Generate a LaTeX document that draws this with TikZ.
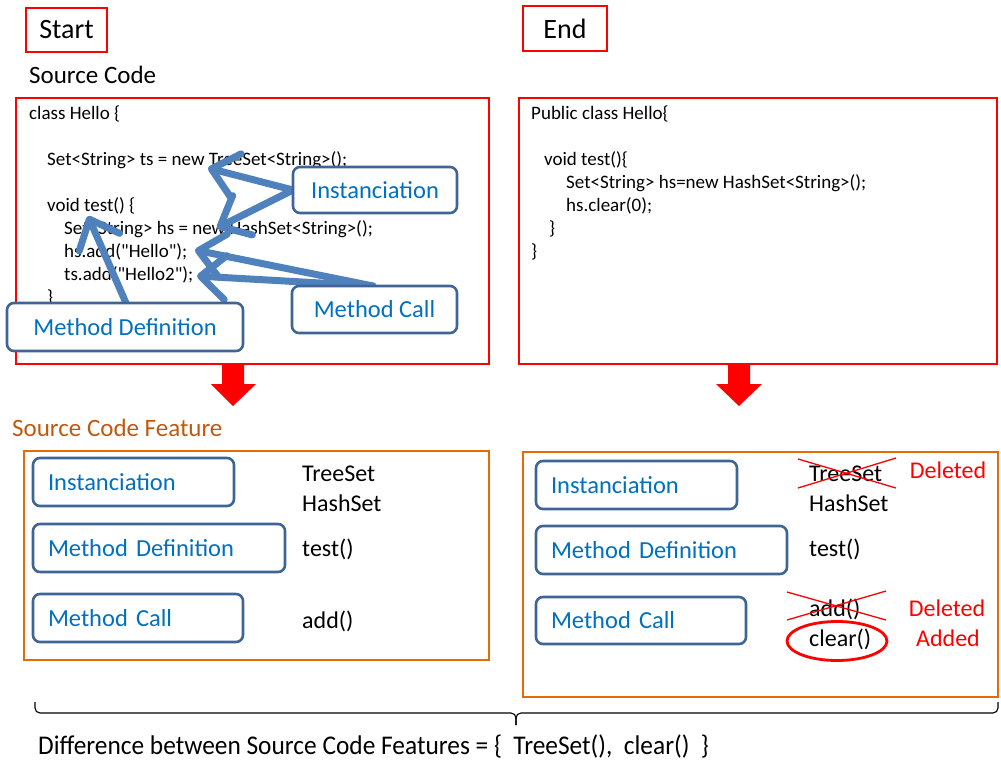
\documentclass[tikz,border=0pt]{standalone}
\usepackage{fontspec}
\setmainfont{Carlito}
\newfontfamily\codefont{Carlito}[Ligatures=TeXOff]
\usetikzlibrary{arrows.meta,shapes.geometric}

\definecolor{codered}{HTML}{FF0000}
\definecolor{featorange}{HTML}{E36C09}
\definecolor{titlebrown}{HTML}{C0590F}
\definecolor{tagborder}{HTML}{3F6597}
\definecolor{tagtext}{HTML}{0070C0}
\definecolor{pointer}{HTML}{4F81BD}

\begin{document}
\begin{tikzpicture}[x=1pt,y=-1pt,
  headbox/.style={draw=codered, line width=2.8pt, inner sep=0, font=\fontsize{28}{32}\selectfont},
  codebox/.style={draw=codered, line width=2.6pt, inner sep=0},
  featframe/.style={draw=featorange, line width=2.8pt, inner sep=0},
  codeline/.style={anchor=base west, inner sep=0, font=\codefont\fontsize{19}{23}\selectfont},
  heading/.style={anchor=base west, inner sep=0, font=\fontsize{25}{30}\selectfont},
  tagbox/.style={draw=tagborder, line width=2.6pt, rounded corners=7pt, fill=white,
                 text=tagtext, inner sep=0, font=\fontsize{24.5}{29}\selectfont},
  featbox/.style={tagbox, inner xsep=15pt, align=left},
  feattext/.style={anchor=base west, inner sep=0, font=\fontsize{24}{29}\selectfont},
  marktext/.style={anchor=base, inner sep=0, text=codered, font=\fontsize{24}{29}\selectfont},
  pointerarrow/.style={draw=pointer, line width=7pt, line cap=round,
                 -{Straight Barb[length=25pt, width=44pt, round]}},
  strike/.style={draw=codered, line width=1.3pt},
  downarrow/.style={fill=codered}
]
\useasboundingbox (0,0) rectangle (1001,761);

% ---- headers ----
\node[headbox, minimum width=81pt, minimum height=44pt] (start) at (66.5,30) {Start};
\node[headbox, minimum width=84pt, minimum height=45pt] (end) at (565,28.5) {End};
\node[heading] (srctitle) at (29,83) {Source Code};

% ---- source code boxes ----
\node[codebox, minimum width=473pt, minimum height=266pt] (srcL) at (252.5,231) {};
\node[codebox, minimum width=478pt, minimum height=266pt] (srcR) at (758,231) {};

% left listing
\node[codeline] (l1) at (29,119.5) {class Hello \{};
\node[codeline] (l2) at (47,165.5) {Set<String> ts = new TreeSet<String>();};
\node[codeline] (l3) at (47,211.5) {void test() \{};
\node[codeline] (l4) at (64,234.5) {Set<String> hs = new HashSet<String>();};
\node[codeline] (l5) at (64,257.5) {hs.add("Hello");};
\node[codeline] (l6) at (64,280.5) {ts.add("Hello2");};
\node[codeline] (l7) at (47,303.5) {\}};
\node[codeline] (l8) at (29,326.5) {\}};

% right listing
\node[codeline] (r1) at (531,119.5) {Public class Hello\{};
\node[codeline] (r2) at (544,165.5) {void test()\{};
\node[codeline] (r3) at (566,188.5) {Set<String> hs=new HashSet<String>();};
\node[codeline] (r4) at (566,211.5) {hs.clear(0);};
\node[codeline] (r5) at (549,234.5) {\}};
\node[codeline] (r6) at (531,257.5) {\}};

% ---- pointers into the listing ----
\coordinate (pTree) at (208,168);
\coordinate (pHash) at (217,228);
\coordinate (pAdd1) at (195,250);
\coordinate (pAdd2) at (197,276);
\coordinate (pTest) at (88,216);

\coordinate (instStart) at (293,190);
\coordinate (callStart) at (373,286);
\coordinate (defStart) at (126,303);

\draw[pointerarrow] (instStart) -- (pTree);
\draw[pointerarrow] (instStart) -- (pHash);
\draw[pointerarrow] (callStart) -- (pAdd1);
\draw[pointerarrow] (callStart) -- (pAdd2);
\draw[pointerarrow] (defStart) -- (pTest);

\node[tagbox, minimum width=164pt, minimum height=46pt] (instTop) at (375,190) {Instanciation};
\node[tagbox, minimum width=165pt, minimum height=47pt] (callTop) at (374.5,309.5) {Method Call};
\node[tagbox, minimum width=236pt, minimum height=48pt] (defTop) at (125,327) {Method Definition};

% ---- block arrows ----
\fill[downarrow] (222,364) -- (244,364) -- (244,384) -- (256,384) -- (233,406)
                 -- (211,384) -- (222,384) -- cycle;
\fill[downarrow] (728,364) -- (750,364) -- (750,384) -- (762,384) -- (739,406)
                 -- (716,384) -- (728,384) -- cycle;

% ---- feature boxes ----
\node[heading, text=titlebrown] (feattitle) at (12,436.5) {Source Code Feature};
\node[featframe, minimum width=465pt, minimum height=209pt] (featL) at (256.5,555.5) {};
\node[featframe, minimum width=475pt, minimum height=245pt] (featR) at (760.5,574.5) {};

\node[featbox, text width=171pt, minimum height=48pt] (instL) at (133.5,482) {Instanciation};
\node[featbox, text width=222pt, minimum height=48pt] (defL) at (159,548) {Method Definition};
\node[featbox, text width=180pt, minimum height=48pt] (callL) at (138,618) {Method Call};

\node[feattext] (treeL) at (302,481.5) {TreeSet};
\node[feattext] (hashL) at (302,511) {HashSet};
\node[feattext] (testL) at (302,556) {test()};
\node[feattext] (addL) at (302,628) {add()};

\node[featbox, text width=171pt, minimum height=48pt] (instR) at (636.5,485) {Instanciation};
\node[featbox, text width=221pt, minimum height=48pt] (defR) at (661.5,550) {Method Definition};
\node[featbox, text width=180pt, minimum height=47pt] (callR) at (641,620.5) {Method Call};

\node[feattext] (treeR) at (809,481) {TreeSet};
\node[feattext] (hashR) at (809,511) {HashSet};
\node[feattext] (testR) at (809,556) {test()};
\node[feattext] (addR) at (809,616.5) {add()};
\node[feattext] (clearR) at (809,646.5) {clear()};

\node[marktext] (del1) at (948,478) {Deleted};
\node[marktext] (del2) at (947,616.5) {Deleted};
\node[marktext] (add2) at (948,646.5) {Added};

% strike-outs and highlight
\draw[strike] (798,459) -- (896,488);
\draw[strike] (798,488) -- (896,458);
\draw[strike] (787,592) -- (886,620);
\draw[strike] (787,620) -- (886,591);
\draw[codered, line width=2.8pt] (837,641) ellipse [x radius=50pt, y radius=19.5pt];

% ---- brace and summary ----
\draw[line width=1.1pt, rounded corners=5pt] (35,702) -- (35,713) -- (516,713) -- (516,725);
\draw[line width=1.1pt, rounded corners=5pt] (998,702) -- (998,713) -- (516,713) -- (516,725);
\node[anchor=base west, inner sep=0, font=\fontsize{27}{32}\selectfont] (summary) at (38,754)
  {\scalebox{0.94}[1]{Difference between Source Code Features = \{\ \ TreeSet(),\ \ clear()\ \ \}}};
\end{tikzpicture}
\end{document}
